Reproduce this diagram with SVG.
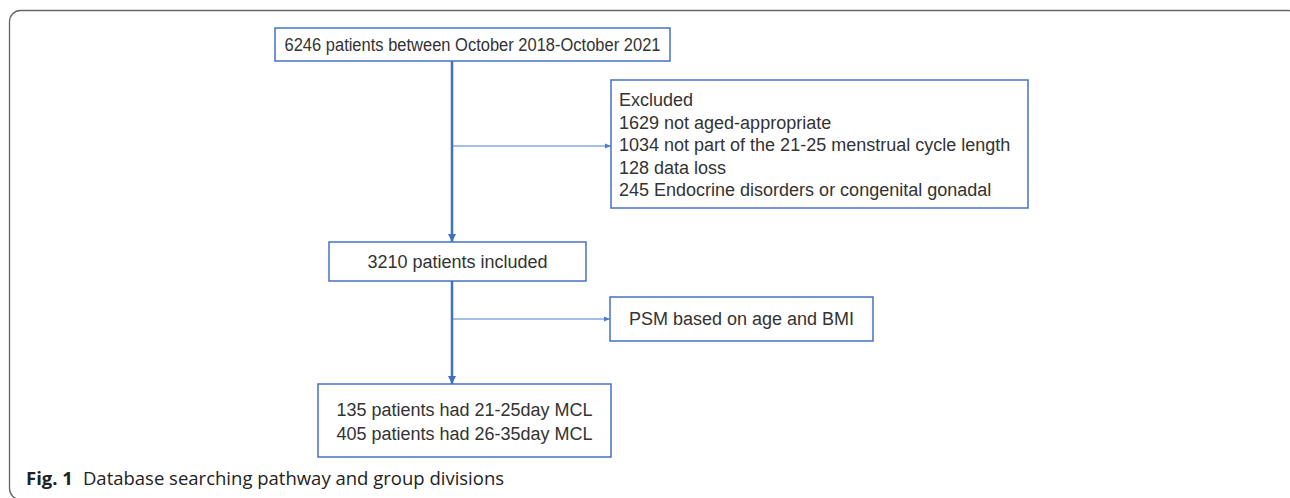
<svg xmlns="http://www.w3.org/2000/svg" width="1290" height="498" viewBox="0 0 1290 498">
  <style>
    .box { fill: #ffffff; stroke: #4472c4; stroke-width: 1.5; }
    .t { font-family: "Liberation Sans", Arial, sans-serif; font-size: 18px; fill: #333333; }
    .main { stroke: #3f6fc6; stroke-width: 2.5; fill: none; }
    .branch { stroke: #4a7fd0; stroke-width: 1; fill: none; }
    .cap { font-family: "Open Sans", "Noto Sans", sans-serif; font-size: 18.5px; fill: #222222; }
  </style>
  <defs>
    <marker id="ahMain" viewBox="0 0 10 10" refX="10" refY="5" markerWidth="3.2" markerHeight="3.2" orient="auto" markerUnits="strokeWidth">
      <path d="M0,0 L10,5 L0,10 Z" fill="#3f6fc6"/>
    </marker>
    <marker id="ahBranch" viewBox="0 0 10 10" refX="10" refY="5" markerWidth="6" markerHeight="6" orient="auto" markerUnits="strokeWidth">
      <path d="M0,1 L10,5 L0,9 Z" fill="#4a7fd0"/>
    </marker>
  </defs>

  <rect x="9.5" y="10.5" width="1290" height="489" rx="11" ry="11" fill="none" stroke="#666666" stroke-width="1.3"/>

  <g id="connectors">
    <line class="main" x1="452" y1="61" x2="452" y2="242" marker-end="url(#ahMain)"/>
    <line class="main" x1="452" y1="281" x2="452" y2="384" marker-end="url(#ahMain)"/>
    <line class="branch" x1="452" y1="146" x2="611" y2="146" marker-end="url(#ahBranch)"/>
    <line class="branch" x1="452" y1="319" x2="610" y2="319" marker-end="url(#ahBranch)"/>
  </g>

  <g id="n-start">
    <rect class="box" x="275" y="28" width="395" height="33"/>
    <text class="t" x="472.5" y="51" text-anchor="middle" textLength="376" lengthAdjust="spacingAndGlyphs">6246 patients between October 2018-October 2021</text>
  </g>

  <g id="n-excluded">
    <rect class="box" x="611" y="80" width="417" height="128"/>
    <text class="t" x="619" y="106">Excluded</text>
    <text class="t" x="619" y="128.5">1629 not aged-appropriate</text>
    <text class="t" x="619" y="151">1034 not part of the 21-25 menstrual cycle length</text>
    <text class="t" x="619" y="173.5">128 data loss</text>
    <text class="t" x="619" y="196">245 Endocrine disorders or congenital gonadal</text>
  </g>

  <g id="n-included">
    <rect class="box" x="329" y="242" width="257" height="39"/>
    <text class="t" x="457.5" y="268" text-anchor="middle">3210 patients included</text>
  </g>

  <g id="n-psm">
    <rect class="box" x="610" y="297" width="263" height="44"/>
    <text class="t" x="741.5" y="325" text-anchor="middle">PSM based on age and BMI</text>
  </g>

  <g id="n-groups">
    <rect class="box" x="318" y="384" width="293" height="73"/>
    <text class="t" x="464.5" y="416" text-anchor="middle">135 patients had 21-25day MCL</text>
    <text class="t" x="464.5" y="440" text-anchor="middle">405 patients had 26-35day MCL</text>
  </g>

  <g id="caption">
    <text class="cap" x="26" y="485"><tspan font-weight="bold">Fig. 1</tspan><tspan dx="10">Database searching pathway and group divisions</tspan></text>
  </g>
</svg>
